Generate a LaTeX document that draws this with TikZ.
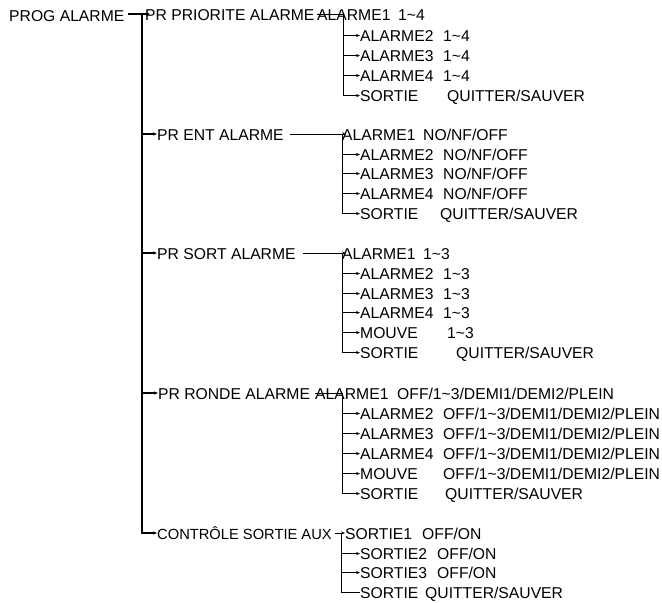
\documentclass[tikz,border=0pt]{standalone}
\usepackage{fontspec}
\setmainfont{Liberation Sans}
\usetikzlibrary{arrows.meta,calc}
\newcommand{\tld}{\textasciitilde}
\begin{document}
\begin{tikzpicture}[x=1pt,y=-1pt,
  lbl/.style={anchor=base west,inner sep=0pt,font=\fontsize{15.7}{18}\selectfont},
  ln/.style={line width=0.9pt},
  mln/.style={line width=1.3pt},
  tip/.style={-{Stealth[length=4pt,width=3.2pt]}}]
\useasboundingbox (0,0) rectangle (662,603);

% ---- level 0 / level 1
\node[lbl] (prog) at (9,21) {PROG ALARME};
\node[lbl] (p1) at (145,20) {PR PRIORITE ALARME};
\node[lbl] (p2) at (157,140) {PR ENT ALARME};
\node[lbl] (p3) at (157,259) {PR SORT ALARME};
\node[lbl] (p4) at (158,399) {PR RONDE ALARME};
\node[lbl,font=\fontsize{14.7}{18}\selectfont] (p5) at (157,539) {CONTRÔLE SORTIE AUX};

% ---- block 1
\node[lbl] (a11) at (317,20) {ALARME1};  \node[lbl] (v11) at (398,20) {1\tld4};
\node[lbl] (a12) at (360,41) {ALARME2};  \node[lbl] (v12) at (443,41) {1\tld4};
\node[lbl] (a13) at (360,61) {ALARME3};  \node[lbl] (v13) at (443,61) {1\tld4};
\node[lbl] (a14) at (360,81) {ALARME4};  \node[lbl] (v14) at (443,81) {1\tld4};
\node[lbl] (a15) at (360,101) {SORTIE};  \node[lbl] (v15) at (447,101) {QUITTER/SAUVER};

% ---- block 2
\node[lbl] (a21) at (342,140) {ALARME1}; \node[lbl] (v21) at (423,140) {NO/NF/OFF};
\node[lbl] (a22) at (360,160) {ALARME2}; \node[lbl] (v22) at (443,160) {NO/NF/OFF};
\node[lbl] (a23) at (360,179) {ALARME3}; \node[lbl] (v23) at (443,179) {NO/NF/OFF};
\node[lbl] (a24) at (360,199) {ALARME4}; \node[lbl] (v24) at (443,199) {NO/NF/OFF};
\node[lbl] (a25) at (360,219) {SORTIE};  \node[lbl] (v25) at (440,219) {QUITTER/SAUVER};

% ---- block 3
\node[lbl] (a31) at (342,259) {ALARME1}; \node[lbl] (v31) at (423,259) {1\tld3};
\node[lbl] (a32) at (360,279) {ALARME2}; \node[lbl] (v32) at (443,279) {1\tld3};
\node[lbl] (a33) at (360,299) {ALARME3}; \node[lbl] (v33) at (443,299) {1\tld3};
\node[lbl] (a34) at (360,318) {ALARME4}; \node[lbl] (v34) at (443,318) {1\tld3};
\node[lbl] (a35) at (360,338) {MOUVE};   \node[lbl] (v35) at (447,338) {1\tld3};
\node[lbl] (a36) at (360,358) {SORTIE};  \node[lbl] (v36) at (456,358) {QUITTER/SAUVER};

% ---- block 4
\node[lbl] (a41) at (315,399) {ALARME1}; \node[lbl] (v41) at (397,399) {OFF/1\tld3/DEMI1/DEMI2/PLEIN};
\node[lbl] (a42) at (360,419) {ALARME2}; \node[lbl] (v42) at (443,419) {OFF/1\tld3/DEMI1/DEMI2/PLEIN};
\node[lbl] (a43) at (360,439) {ALARME3}; \node[lbl] (v43) at (443,439) {OFF/1\tld3/DEMI1/DEMI2/PLEIN};
\node[lbl] (a44) at (360,459) {ALARME4}; \node[lbl] (v44) at (443,459) {OFF/1\tld3/DEMI1/DEMI2/PLEIN};
\node[lbl] (a45) at (360,479) {MOUVE};   \node[lbl] (v45) at (443,479) {OFF/1\tld3/DEMI1/DEMI2/PLEIN};
\node[lbl] (a46) at (360,499) {SORTIE};  \node[lbl] (v46) at (445,499) {QUITTER/SAUVER};

% ---- block 5
\node[lbl] (a51) at (345,539) {SORTIE1}; \node[lbl] (v51) at (422,539) {OFF/ON};
\node[lbl] (a52) at (360,559) {SORTIE2}; \node[lbl] (v52) at (437,559) {OFF/ON};
\node[lbl] (a53) at (360,578) {SORTIE3}; \node[lbl] (v53) at (437,578) {OFF/ON};
\node[lbl] (a54) at (360,598) {SORTIE};  \node[lbl] (v54) at (425,598) {QUITTER/SAUVER};

% ---- junction points
\coordinate (c0) at (128,14);
\coordinate (m0) at (142,14);
\coordinate (m2) at (142,134);
\coordinate (m3) at (142,253);
\coordinate (m4) at (142,393);
\coordinate (m5) at (142,533);
\coordinate (k1) at (343,14);
\coordinate (k2) at (342,134);
\coordinate (k3) at (342,253);
\coordinate (k4) at (342,393);
\coordinate (k5) at (341,533);

% ---- main trunk
\draw[mln,tip] (c0) -- ($(m0 -| p1.west)+(5,0)$);
\draw[mln,tip] (m0) -- (m5) -- (m5 -| p5.west);
\draw[mln,tip] (m2) -- (m2 -| p2.west);
\draw[mln,tip] (m3) -- (m3 -| p3.west);
\draw[mln,tip] (m4) -- (m4 -| p4.west);

% ---- block 1 connectors
\draw[ln] (k1 -| a11.west) -- (k1);
\draw[ln,tip] (k1) |- (a15.west);
\draw[ln,tip] (a12.west -| k1) -- (a12.west);
\draw[ln,tip] (a13.west -| k1) -- (a13.west);
\draw[ln,tip] (a14.west -| k1) -- (a14.west);

% ---- block 2 connectors
\draw[ln,tip] ($(p2.east |- k2)+(6,0)$) -- ($(k2)+(4,0)$);
\draw[ln,tip] (k2) |- (a25.west);
\draw[ln,tip] (a22.west -| k2) -- (a22.west);
\draw[ln,tip] (a23.west -| k2) -- (a23.west);
\draw[ln,tip] (a24.west -| k2) -- (a24.west);

% ---- block 3 connectors
\draw[ln,tip] ($(p3.east |- k3)+(7,0)$) -- ($(k3)+(4,0)$);
\draw[ln,tip] (k3) |- (a36.west);
\draw[ln,tip] (a32.west -| k3) -- (a32.west);
\draw[ln,tip] (a33.west -| k3) -- (a33.west);
\draw[ln,tip] (a34.west -| k3) -- (a34.west);
\draw[ln,tip] (a35.west -| k3) -- (a35.west);

% ---- block 4 connectors
\draw[ln] (k4 -| a41.west) -- (k4);
\draw[ln,tip] (k4) |- (a46.west);
\draw[ln,tip] (a42.west -| k4) -- (a42.west);
\draw[ln,tip] (a43.west -| k4) -- (a43.west);
\draw[ln,tip] (a44.west -| k4) -- (a44.west);
\draw[ln,tip] (a45.west -| k4) -- (a45.west);

% ---- block 5 connectors
\draw[ln,tip] ($(p5.east |- k5)+(3,0)$) -- (k5 -| a51.west);
\draw[ln] (k5) |- (a54.west);
\draw[ln,tip] (a52.west -| k5) -- (a52.west);
\draw[ln,tip] (a53.west -| k5) -- (a53.west);
\end{tikzpicture}
\end{document}
